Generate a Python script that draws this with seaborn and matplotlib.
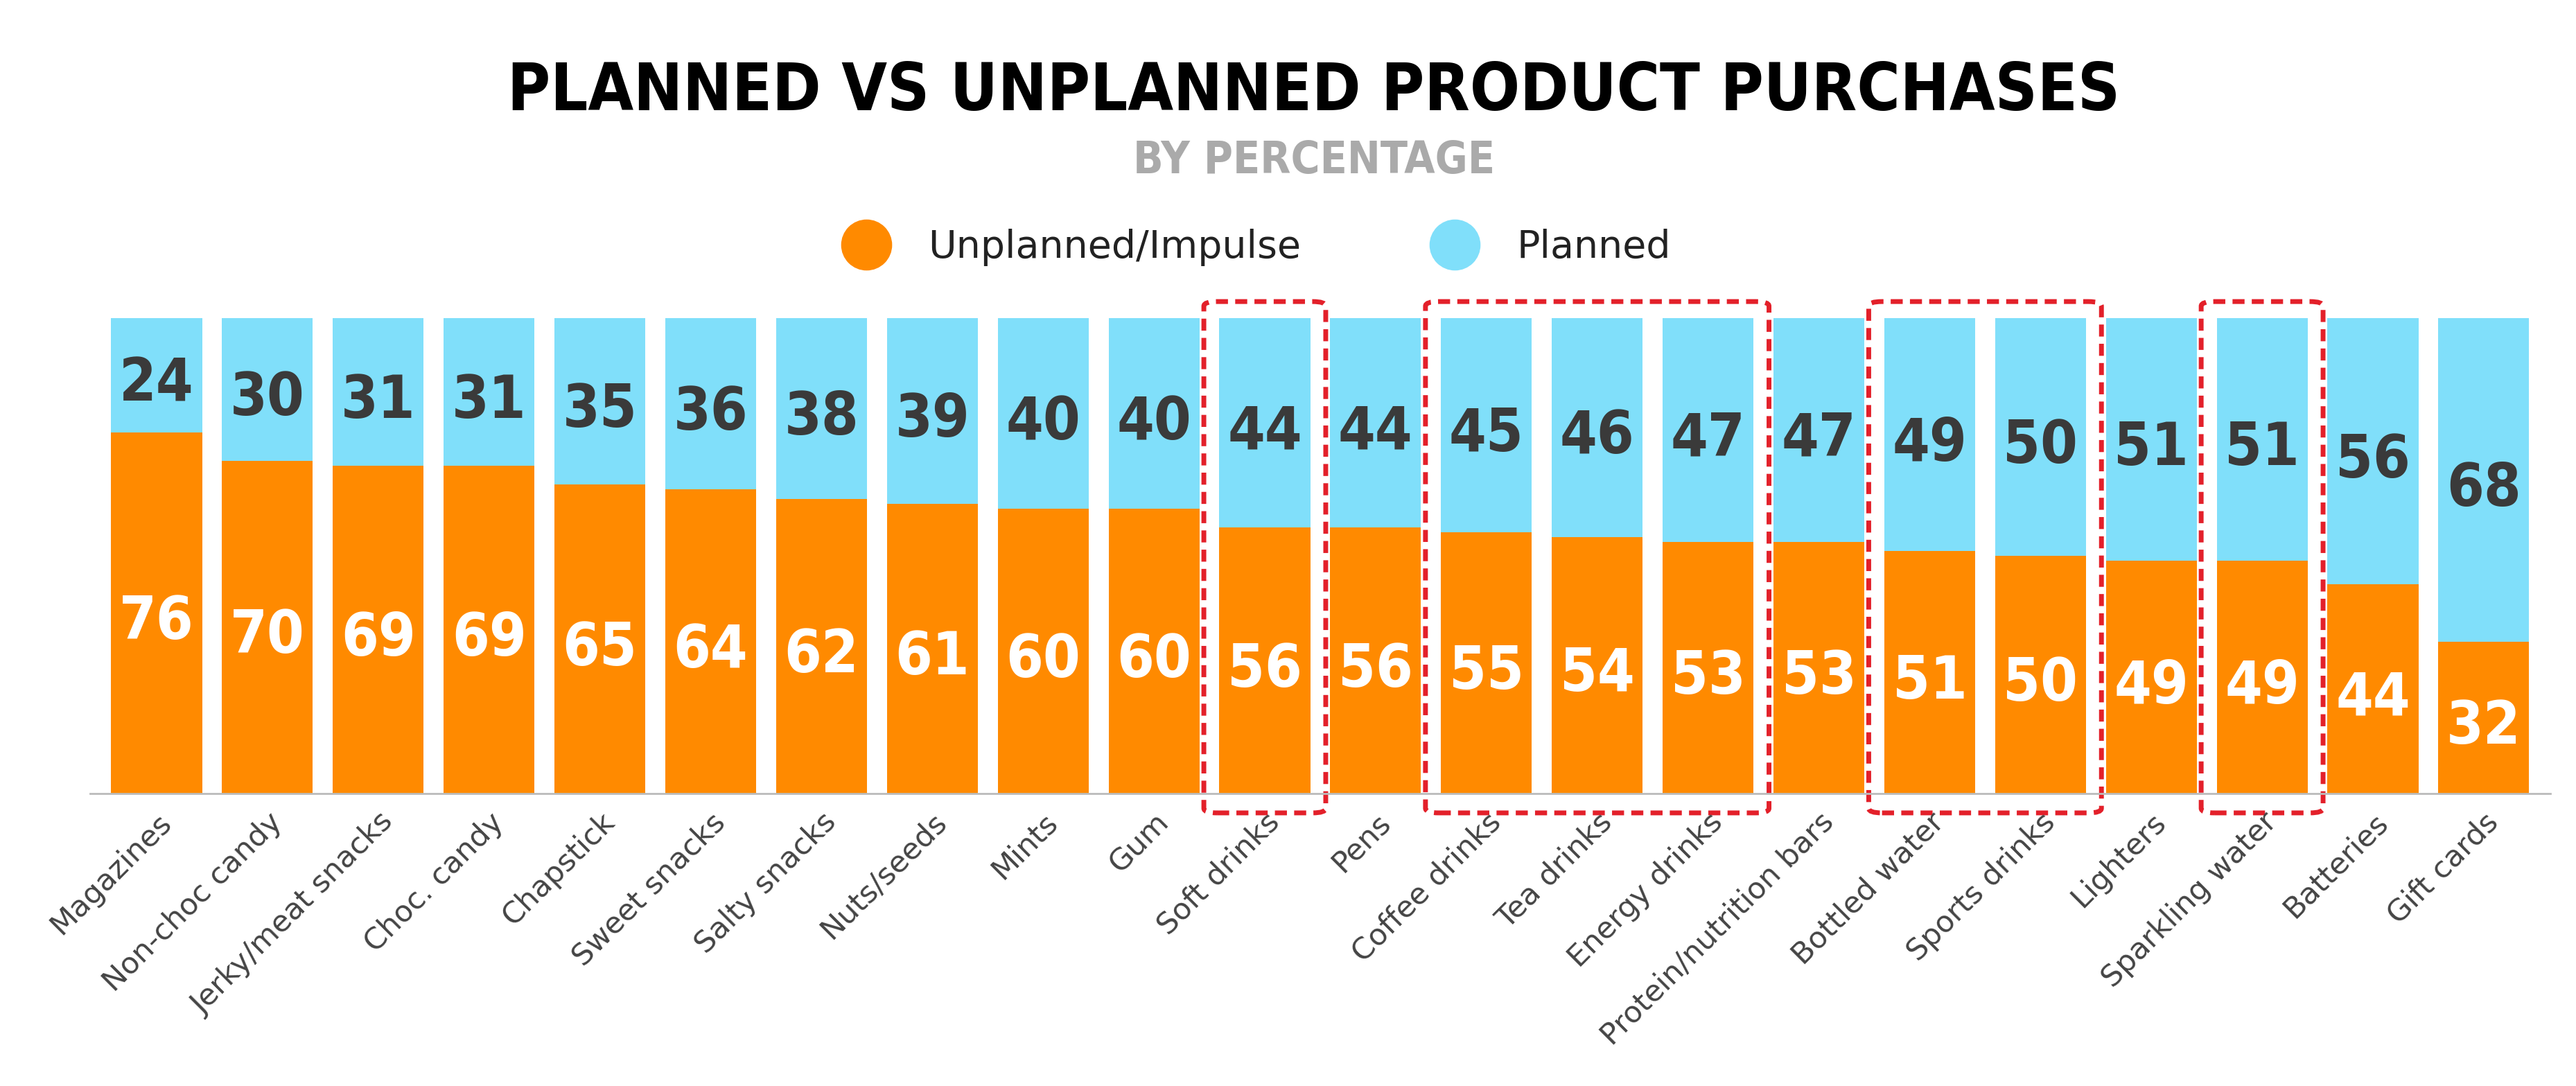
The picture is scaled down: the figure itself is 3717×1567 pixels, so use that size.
import matplotlib
matplotlib.use("Agg")
import matplotlib.pyplot as plt
import seaborn as sns
import pandas as pd
from matplotlib.patches import FancyBboxPatch
from matplotlib.lines import Line2D

categories = ["Magazines","Non-choc candy","Jerky/meat snacks","Choc. candy","Chapstick",
              "Sweet snacks","Salty snacks","Nuts/seeds","Mints","Gum","Soft drinks","Pens",
              "Coffee drinks","Tea drinks","Energy drinks","Protein/nutrition bars","Bottled water",
              "Sports drinks","Lighters","Sparkling water","Batteries","Gift cards"]
unplanned = [76,70,69,69,65,64,62,61,60,60,56,56,55,54,53,53,51,50,49,49,44,32]
planned = [24,30,31,31,35,36,38,39,40,40,44,44,45,46,47,47,49,50,51,51,56,68]
highlight_groups = [(10,10),(12,14),(16,17),(19,19)]

ORANGE = "#FF8A00"; CYAN = "#80DFFA"
df = pd.DataFrame({"cat": categories, "u": unplanned, "p": planned})
df["total"] = df["u"] + df["p"]

fig = plt.figure(figsize=(37.17, 15.67), dpi=100)
ax = fig.add_axes([0.035, 0.269, 0.955, 0.438])
cond = dict(family="DejaVu Sans", stretch="condensed", fontweight="bold")
sns.barplot(data=df, x="cat", y="total", color=CYAN, width=0.82, ax=ax, saturation=1)
sns.barplot(data=df, x="cat", y="u", color=ORANGE, width=0.82, ax=ax, saturation=1)
ax.set_ylim(0, 100)
ax.set_xlim(-0.6, len(categories) - 0.4)
for s in ["top", "right", "left"]:
    ax.spines[s].set_visible(False)
ax.spines["bottom"].set_color("#bbbbbb"); ax.spines["bottom"].set_linewidth(2)
ax.set_yticks([]); ax.set_xlabel(""); ax.set_ylabel("")
ax.tick_params(axis="x", length=0, pad=14)
ax.set_xticks(range(len(categories)))
ax.set_xticklabels(categories, rotation=45, ha="right", rotation_mode="anchor",
                   fontsize=31, color="#444444")

for i, (u, p) in enumerate(zip(unplanned, planned)):
    ax.text(i, u / 2 - 2, str(u), ha="center", va="center", color="white", fontsize=62, **cond)
    ax.text(i, u + p / 2 - 2, str(p), ha="center", va="center", color="#3a3a3a", fontsize=62, **cond)

for a, b in highlight_groups:
    box = FancyBboxPatch((a - 0.55, -4), b - a + 1.1, 107.5,
                         boxstyle="round,pad=0,rounding_size=0.12",
                         fill=False, edgecolor="#E3202A", linestyle=(0, (2.5, 1.5)),
                         linewidth=5, clip_on=False, mutation_aspect=8)
    ax.add_patch(box)

fig.text(0.51, 0.915, "PLANNED VS UNPLANNED PRODUCT PURCHASES", ha="center", va="center",
         fontsize=68, color="black", **cond)
fig.text(0.51, 0.852, "BY PERCENTAGE", ha="center", va="center",
         fontsize=46, color="#aaaaaa", **cond)
handles = [Line2D([], [], marker="o", linestyle="", markersize=52, color=ORANGE),
           Line2D([], [], marker="o", linestyle="", markersize=52, color=CYAN)]
fig.legend(handles, ["Unplanned/Impulse", "Planned"], loc="center", bbox_to_anchor=(0.485, 0.772),
           ncol=2, frameon=False, fontsize=40, handletextpad=0.6, columnspacing=3,
           labelcolor="#222222")
fig.savefig("out.png", dpi=100, facecolor="white")
